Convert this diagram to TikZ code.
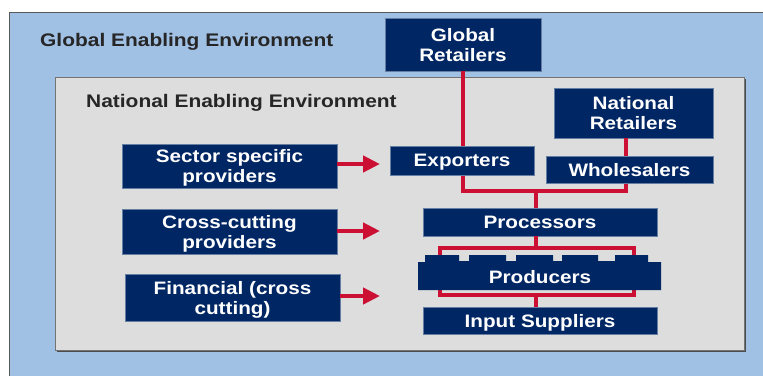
\documentclass[tikz,border=0pt]{standalone}
\usepackage{fontspec}
\setmainfont{Liberation Sans}[FakeStretch=1.15]
\usetikzlibrary{arrows.meta}
\definecolor{bgblue}{RGB}{160,192,228}
\definecolor{panelgray}{RGB}{221,221,221}
\definecolor{navy}{RGB}{0,38,100}
\definecolor{chainred}{RGB}{204,16,52}
\begin{document}
\begin{tikzpicture}[x=1pt,y=-1pt,
  navybox/.style={fill=navy, draw=navy!60!white, line width=0.4pt, text=white,
    font=\bfseries\fontsize{18}{20}\selectfont, align=center, inner sep=0pt, text depth=0pt},
  envlabel/.style={anchor=base west, inner sep=0pt, text=black!85,
    font=\bfseries\fontsize{18.2}{20}\selectfont},
  chain/.style={draw=chainred, line width=4.5pt},
  feed/.style={draw=chainred, line width=4.5pt, -{Triangle[length=17pt,width=16pt]}}]
\useasboundingbox (0,0) rectangle (763,375);
\fill[white] (0,0) rectangle (763,375);
% environments
\draw[fill=bgblue, draw=black!65, line width=0.8pt] (9,12) rectangle (790,400);
\fill[black!70] (57,79) rectangle (746,352);
\draw[fill=panelgray, draw=black!55, line width=0.6pt] (55,77) rectangle (744,350);
\node[envlabel] (gee) at (40,46.5) {Global Enabling Environment};
\node[envlabel] (nee) at (86,107) {National Enabling Environment};
% junctions
\coordinate (j1) at (463,191);
\coordinate (j2) at (536,191);
\coordinate (j3) at (626,191);
% boxes
\node[navybox, minimum width=156pt, minimum height=53pt] (gr) at (463,44.5) {Global\\Retailers};
\node[navybox, minimum width=159pt, minimum height=50pt] (nr) at (633.5,113) {National\\Retailers};
% red chain lines (behind)
\draw[chain] (gr.south -| j1) -- (j1) -- (j3) -- (j3 |- nr.south);
\node[navybox, minimum width=144pt, minimum height=29pt] (exp) at (462,160.5) {Exporters};
\node[navybox, minimum width=167pt, minimum height=27pt] (whs) at (629.5,169.5) {Wholesalers};
\node[navybox, minimum width=234pt, minimum height=28pt] (proc) at (540,222) {Processors};
\node[navybox, minimum width=234pt, minimum height=27pt] (inp) at (540,320.5) {Input Suppliers};
\coordinate (ftop) at (536,248);
\coordinate (fbot) at (536,295);
\draw[chain] (j2) -- (j2 |- proc.north);
\draw[chain] (proc.south -| ftop) -- (ftop);
\draw[chain] (440,248) rectangle (634,295);
\draw[chain] (fbot) -- (fbot |- inp.north);
% producers (notched block)
\fill[navy] (418,290) -- (418,262) -- (425,262) -- (425,255) -- (459,255) -- (459,261)
  -- (469,261) -- (469,255) -- (506,255) -- (506,261) -- (516,261) -- (516,255)
  -- (553,255) -- (553,261) -- (562,261) -- (562,255) -- (598,255) -- (598,261)
  -- (615,261) -- (615,255) -- (648,255) -- (648,262) -- (661,262) -- (661,290) -- cycle;
\node[text=white, inner sep=0pt, text depth=0pt, font=\bfseries\fontsize{18}{20}\selectfont] (prod) at (540,277) {Producers};
% support providers
\node[navybox, minimum width=215pt, minimum height=44pt] (ssp) at (229.5,166) {Sector specific\\providers};
\node[navybox, minimum width=215pt, minimum height=45pt] (ccp) at (229.5,231.5) {Cross-cutting\\providers};
\node[navybox, minimum width=215pt, minimum height=47pt] (fin) at (232.5,297.5) {Financial (cross\\cutting)};
\coordinate (a1) at (380,164);
\coordinate (a2) at (380,231);
\coordinate (a3) at (380,296);
\draw[feed] (ssp.east |- a1) -- (a1);
\draw[feed] (ccp.east |- a2) -- (a2);
\draw[feed] (fin.east |- a3) -- (a3);
\end{tikzpicture}
\end{document}
